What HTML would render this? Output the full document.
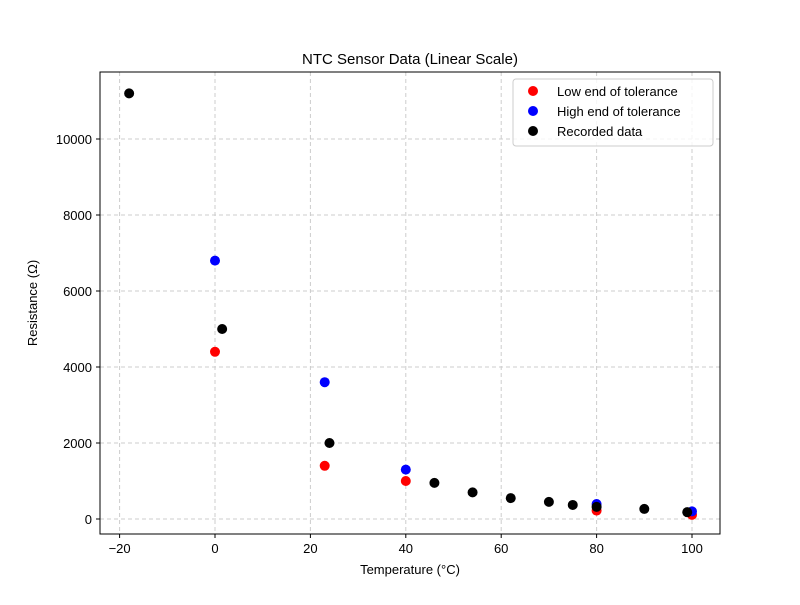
<!DOCTYPE html>
<html><head><meta charset="utf-8"><style>
body{margin:0;background:#fff;font-family:"Liberation Sans","DejaVu Sans",sans-serif;}
</style></head><body>
<svg width="800" height="600" xmlns="http://www.w3.org/2000/svg" font-family="Liberation Sans, DejaVu Sans, sans-serif">
<rect width="800" height="600" fill="#fff"/>
<g id="grid"></g>
<g id="ticks"></g>
<g id="marks"></g>
<rect x="100" y="72" width="620" height="462" fill="none" stroke="#000" stroke-width="1"/>
<text x="410" y="64" text-anchor="middle" font-size="15">NTC Sensor Data (Linear Scale)</text>
<text x="410" y="574" text-anchor="middle" font-size="13">Temperature (°C)</text>
<text transform="translate(37,303) rotate(-90)" text-anchor="middle" font-size="13">Resistance (Ω)</text>
<g>
<rect x="513" y="79" width="200" height="67" rx="3" fill="#fff" fill-opacity="0.8" stroke="#ccc"/>
<circle cx="533" cy="91" r="5" fill="red"/>
<text x="557" y="96" font-size="13">Low end of tolerance</text>
<circle cx="533" cy="111" r="5" fill="blue"/>
<text x="557" y="116" font-size="13">High end of tolerance</text>
<circle cx="533" cy="131" r="5" fill="black"/>
<text x="557" y="136" font-size="13">Recorded data</text>
</g>
</svg>
<script>
const xTicks=[-20,0,20,40,60,80,100];
const yTicks=[0,2000,4000,6000,8000,10000];
const lowT=[0,23,40,80,100];
const lowR=[4400,1400,1000,220,110];
const highT=[0,23,40,80,100];
const highR=[6800,3600,1300,395,200];
const recT=[-18,1.5,24,46,54,62,70,75,80,90,99];
const recR=[11200,5000,2000,950,700,550,450,370,320,265,180];
const X=v=>215+(v)*4.77;
const Y=v=>519-v*0.038;
const NS="http://www.w3.org/2000/svg";
function mk(t,a,p){const e=document.createElementNS(NS,t);for(const k in a)e.setAttribute(k,a[k]);p.appendChild(e);return e;}
const grid=document.getElementById('grid'),ticks=document.getElementById('ticks'),marks=document.getElementById('marks');
xTicks.forEach(v=>{
 const g=mk('line',{x1:X(v),x2:X(v),y1:72,y2:534,stroke:'#ccc','stroke-dasharray':'4,3'},grid);
 
 
 mk('line',{x1:X(v),x2:X(v),y1:534,y2:538,stroke:'#000'},ticks);
 const t=mk('text',{x:X(v),y:553,'text-anchor':'middle','font-size':'13'},ticks);
 t.textContent=v<0?'−'+(-v):v;
 
 
});
yTicks.forEach(v=>{
 const g=mk('line',{x1:100,x2:720,y1:Y(v),y2:Y(v),stroke:'#ccc','stroke-dasharray':'4,3'},grid);
 
 
 mk('line',{x1:96,x2:100,y1:Y(v),y2:Y(v),stroke:'#000'},ticks);
 const t=mk('text',{x:92,y:Y(v)+5,'text-anchor':'end','font-size':'13'},ticks);
 t.textContent=v;
 
 
});
function series(T,R,c,n){T.forEach((t,i)=>{
 const e=mk('circle',{cx:X(t),cy:Y(R[i]),r:5,fill:c},marks);
 
 
});}
series(lowT,lowR,'red','low-point');
series(highT,highR,'blue','high-point');
series(recT,recR,'black','recorded-point');
</script>
</body></html>
